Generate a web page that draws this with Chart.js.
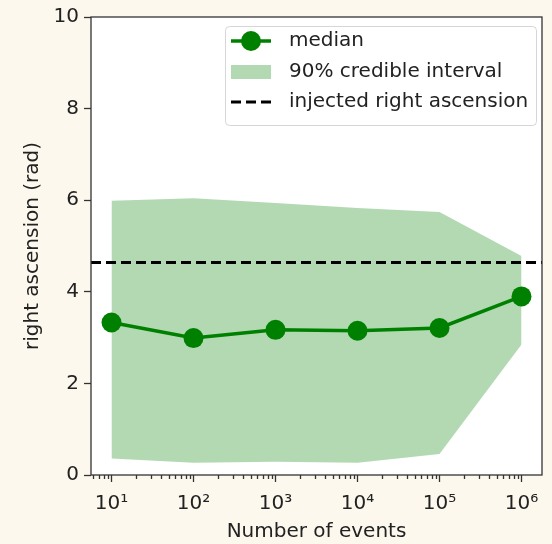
<!DOCTYPE html>
<html>
<head>
<meta charset="utf-8">
<script src="https://cdn.jsdelivr.net/npm/chart.js@4.4.1/dist/chart.umd.min.js"></script>
<style>
  html, body { margin: 0; padding: 0; background: #fcf8ee; }
  #wrap { width: 552px; height: 544px; }
</style>
</head>
<body>
<div id="wrap"><canvas id="chartCanvas" width="552" height="544"></canvas></div>
<script>
// number of events and the right ascension estimates at each
const events = [10, 100, 1000, 10000, 100000, 1000000];
const medianRA = [3.33, 2.99, 3.17, 3.15, 3.21, 3.90];
const upper90 = [5.99, 6.04, 5.94, 5.83, 5.74, 4.78];
const lower90 = [0.36, 0.27, 0.29, 0.27, 0.46, 2.85];
const injectedRA = 4.64;
const xTicks = [10, 100, 1000, 10000, 100000, 1000000];
const yTicks = [0, 2, 4, 6, 8, 10];

const xMin = Math.pow(10, 0.75);
const xMax = Math.pow(10, 6.25);
const FONT = "'DejaVu Sans', sans-serif";
const FS = 20;
const SUP = { "0": "\u2070", "1": "\u00b9", "2": "\u00b2", "3": "\u00b3", "4": "\u2074", "5": "\u2075", "6": "\u2076", "7": "\u2077", "8": "\u2078", "9": "\u2079" };

function pts(ys) {
    return events.map((x, i) => ({ x: x, y: ys[i] }));
}

// white axes face, full frame and minor log ticks
const frame = {
    id: "frame",
    beforeDraw(chart) {
        const a = chart.chartArea, ctx = chart.ctx;
        ctx.save();
        ctx.fillStyle = "#ffffff";
        ctx.fillRect(a.left, a.top, a.right - a.left, a.bottom - a.top);
        ctx.restore();
    },
    afterDraw(chart) {
        const a = chart.chartArea, ctx = chart.ctx;
        const xs = chart.scales.x;
        ctx.save();
        ctx.strokeStyle = "#333";
        ctx.lineWidth = 1.3;
        for (let n = 0; n <= 6; n++) {
            for (let k = 2; k <= 9; k++) {
                const v = k * Math.pow(10, n);
                if (v < xMin || v > xMax) continue;
                const px = Math.round(xs.getPixelForValue(v)) + 0.5;
                ctx.beginPath();
                ctx.moveTo(px, a.bottom);
                ctx.lineTo(px, a.bottom + 4);
                ctx.stroke();
            }
        }
        ctx.strokeRect(a.left, a.top, a.right - a.left, a.bottom - a.top);
        ctx.restore();
        drawLegend(ctx);
    }
};

function drawLegend(ctx) {
    const bx = 225, by = 26, bw = 311, bh = 99;
    ctx.save();
    ctx.fillStyle = "rgba(255,255,255,0.8)";
    ctx.strokeStyle = "rgba(204,204,204,0.8)";
    ctx.lineWidth = 1;
    ctx.beginPath();
    ctx.roundRect(bx + 0.5, by + 0.5, bw, bh, 4);
    ctx.fill();
    ctx.stroke();

    const hx0 = 231, hx1 = 271, tx = 289;
    const rows = [41, 72, 102];
    // median line with marker
    ctx.strokeStyle = "green";
    ctx.lineWidth = 3.5;
    ctx.beginPath();
    ctx.moveTo(hx0, rows[0]);
    ctx.lineTo(hx1, rows[0]);
    ctx.stroke();
    ctx.fillStyle = "green";
    ctx.beginPath();
    ctx.arc((hx0 + hx1) / 2, rows[0], 10, 0, Math.PI * 2);
    ctx.fill();
    // credible interval patch
    ctx.fillStyle = "rgba(0,128,0,0.3)";
    ctx.fillRect(hx0, rows[1] - 7, hx1 - hx0, 14);
    // injected value
    ctx.strokeStyle = "#000";
    ctx.lineWidth = 3;
    ctx.setLineDash([10, 5]);
    ctx.beginPath();
    ctx.moveTo(hx0, rows[2]);
    ctx.lineTo(hx1, rows[2]);
    ctx.stroke();
    ctx.setLineDash([]);

    ctx.fillStyle = "#222";
    ctx.font = FS + "px " + FONT;
    ctx.textBaseline = "middle";
    ctx.fillText("median", tx, rows[0]);
    ctx.fillText("90% credible interval", tx, rows[1]);
    ctx.fillText("injected right ascension", tx, rows[2]);
    ctx.restore();
}

const config = {
    type: "line",
    data: {
        datasets: [
            {
                label: "lower",
                data: pts(lower90),
                borderWidth: 0,
                pointRadius: 0,
                fill: false,
                order: 5
            },
            {
                label: "90% credible interval",
                data: pts(upper90),
                borderWidth: 0,
                pointRadius: 0,
                backgroundColor: "rgba(0,128,0,0.3)",
                fill: "-1",
                order: 4
            },
            {
                label: "injected right ascension",
                data: [{ x: xMin, y: injectedRA }, { x: xMax, y: injectedRA }],
                borderColor: "#000",
                borderWidth: 3,
                borderDash: [10, 5],
                pointRadius: 0,
                fill: false,
                order: 2
            },
            {
                label: "median",
                data: pts(medianRA),
                borderColor: "green",
                backgroundColor: "green",
                borderWidth: 3.5,
                pointRadius: 10,
                pointHoverRadius: 10,
                pointBackgroundColor: "green",
                pointBorderWidth: 0,
                fill: false,
                order: 1
            }
        ]
    },
    options: {
        responsive: false,
        animation: false,
        clip: false,
        layout: { padding: { top: 15, right: 5, left: 0, bottom: 0 } },
        plugins: {
            legend: { display: false },
            tooltip: { enabled: false }
        },
        scales: {
            x: {
                type: "logarithmic",
                min: xMin,
                max: xMax,
                afterBuildTicks(scale) {
                    scale.ticks = xTicks.map(v => ({ value: v }));
                },
                afterFit(scale) { scale.height = 69; },
                ticks: {
                    autoSkip: false,
                    maxRotation: 0,
                    padding: 10,
                    color: "#222",
                    font: { family: FONT, size: FS },
                    callback(v) {
                        const e = String(Math.round(Math.log10(v)));
                        return "10" + e.split("").map(c => SUP[c]).join("");
                    }
                },
                grid: { drawOnChartArea: false, tickLength: 7, tickColor: "#333", tickWidth: 1.3 },
                border: { display: false },
                title: {
                    display: true,
                    text: "Number of events",
                    color: "#222",
                    font: { family: FONT, size: FS },
                    padding: { top: 0, bottom: 0 }
                }
            },
            y: {
                min: 0,
                max: 10,
                afterBuildTicks(scale) {
                    scale.ticks = yTicks.map(v => ({ value: v }));
                },
                afterFit(scale) { scale.width = 91; },
                ticks: {
                    padding: 5,
                    color: "#222",
                    font: { family: FONT, size: FS }
                },
                grid: { drawOnChartArea: false, tickLength: 7, tickColor: "#333", tickWidth: 1.3 },
                border: { display: false },
                title: {
                    display: true,
                    text: "right ascension (rad)",
                    color: "#222",
                    font: { family: FONT, size: FS },
                    padding: { top: 21, bottom: 0 }
                }
            }
        }
    },
    plugins: [frame]
};

new Chart(document.getElementById("chartCanvas"), config);
</script>
</body>
</html>
